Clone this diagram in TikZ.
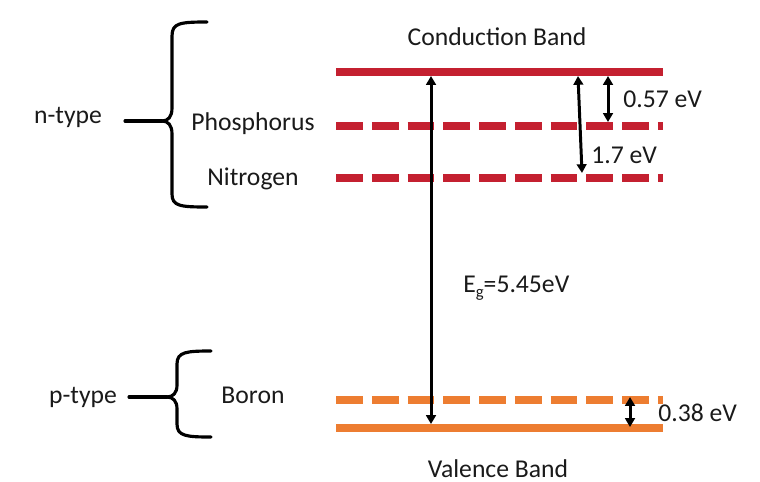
\documentclass[tikz,border=0pt]{standalone}
\usepackage{fontspec}
\setmainfont{Carlito}
\usetikzlibrary{arrows.meta,calc}
\definecolor{bandRed}{HTML}{C42030}
\definecolor{bandOrange}{HTML}{ED7D31}
\definecolor{bandText}{HTML}{1A1A1A}

\begin{document}
\begin{tikzpicture}[x=0.02cm, y=-0.02cm,
  every node/.style={inner sep=0pt, font=\fontsize{14.6}{17}\selectfont, text=bandText},
  bandline/.style={line width=4.5pt, line cap=butt},
  donorline/.style={bandline, dash pattern=on 15.25pt off 5.1pt},
  gaparrow/.style={line width=1.7pt, {Triangle[length=5pt,width=5.5pt]}-{Triangle[length=5pt,width=5.5pt]}},
  bracepath/.style={line width=1.8pt, line cap=round, line join=round}]

\useasboundingbox (0,0) rectangle (760,481);

\def\xL{336}               % left end of levels
\def\xR{663}               % right end of levels

% --- ENERGY LEVELS ---
\coordinate (cbL) at (\xL,72);   \coordinate (cbR) at (\xR,72);
\coordinate (phL) at (\xL,126);  \coordinate (phR) at (\xR,126);
\coordinate (niL) at (\xL,178);  \coordinate (niR) at (\xR,178);
\coordinate (boL) at (\xL,400);  \coordinate (boR) at (\xR,400);
\coordinate (vbL) at (\xL,428);  \coordinate (vbR) at (\xR,428);

\draw[bandline, bandRed] (cbL) -- (cbR);
\draw[donorline, bandRed] (phL) -- (phR);
\draw[donorline, bandRed] (niL) -- (niR);
\draw[donorline, bandOrange] (boL) -- (boR);
\draw[bandline, bandOrange] (vbL) -- (vbR);

% --- LABELS ---
\node[anchor=base] (cbLab) at (497,45) {Conduction Band};
\node[anchor=base] (vbLab) at (498,477) {Valence Band};
\node[anchor=base] (phLab) at (253,130) {Phosphorus};
\node[anchor=base] (niLab) at (253,185) {Nitrogen};
\node[anchor=base] (boLab) at (253,403) {Boron};
\node[anchor=base] (nLab) at (68,123) {n-type};
\node[anchor=base] (pLab) at (83,403) {p-type};

% --- GAP ARROWS ---
\coordinate (egTop) at (431,76);   \coordinate (egBot) at (431,424);
\coordinate (nTop) at (578,76);    \coordinate (nBot) at (582,173);
\coordinate (pTop) at (608,76);    \coordinate (pBot) at (608,122);
\coordinate (bTop) at (630,397);   \coordinate (bBot) at (630,427);

\draw[gaparrow] (egTop) -- (egBot);
\draw[gaparrow] (nTop) -- (nBot);
\draw[gaparrow] (pTop) -- (pBot);
\draw[gaparrow] (bTop) -- (bBot);

\node[anchor=base west] (egLab) at (463,292)
  {E\raisebox{-0.45ex}{\fontsize{9.5}{10}\selectfont g}=5.45eV};
\node[anchor=base west] (pEn) at (623,107) {0.57 eV};
\node[anchor=base west] (nEn) at (591,163) {1.7 eV};
\node[anchor=base west] (bEn) at (658,421) {0.38 eV};

% --- BRACES ---
\coordinate (nTip) at (162,121);
\coordinate (nStart) at (125,121);
\coordinate (pTip) at (167,397);
\coordinate (pStart) at (129,397);

\draw[bracepath] (207,22) .. controls (180,22) and (172,23) .. (172,36)
  -- (172,108) .. controls (172,117) and (168,121) .. (nTip)
  .. controls (168,121) and (172,125) .. (172,134)
  -- (172,194) .. controls (172,206) and (180,207) .. (207,207);
\draw[bracepath] (nStart) -- (nTip);

\draw[bracepath] (211,351) .. controls (186,351) and (177,352) .. (177,364)
  -- (177,385) .. controls (177,393) and (173,397) .. (pTip)
  .. controls (173,397) and (177,401) .. (177,409)
  -- (177,424) .. controls (177,436) and (186,437) .. (211,437);
\draw[bracepath] (pStart) -- (pTip);

\end{tikzpicture}
\end{document}
